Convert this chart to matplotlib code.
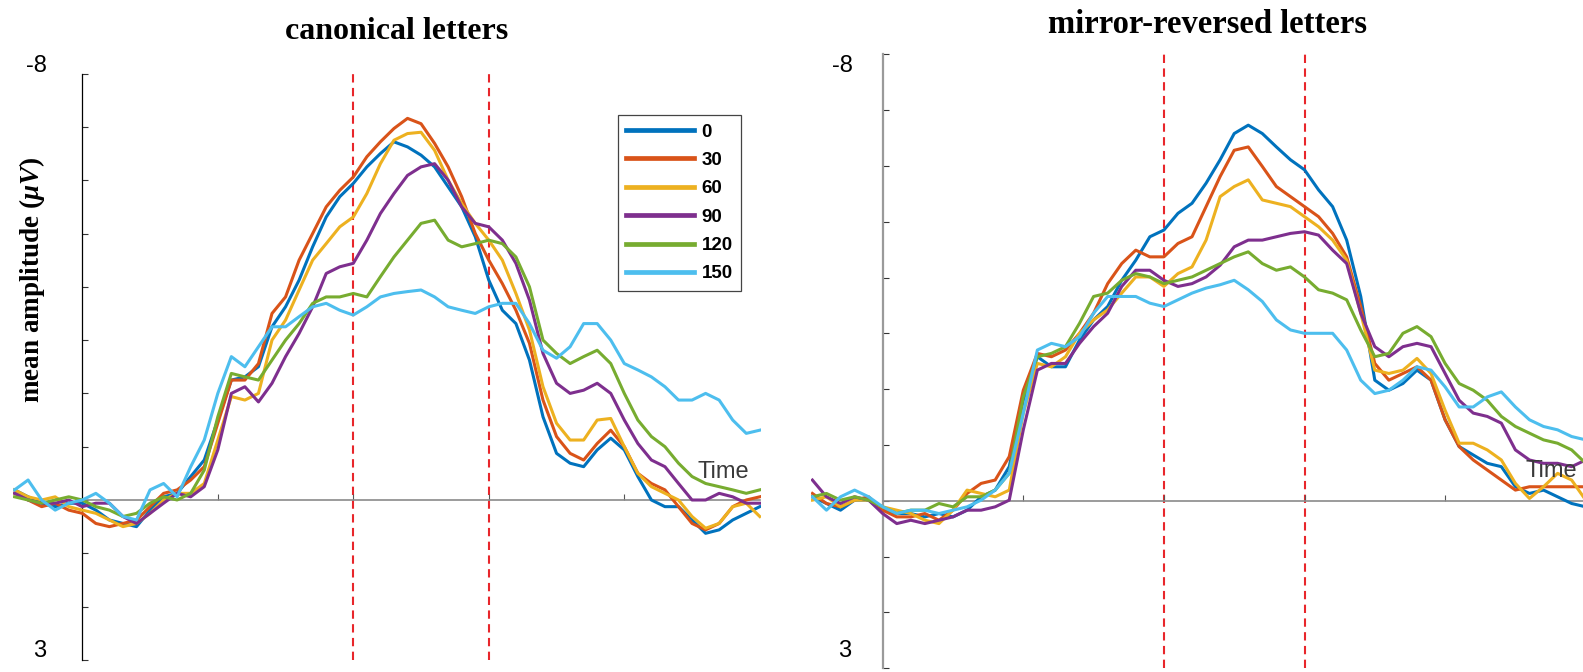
import matplotlib
matplotlib.use("Agg")
import matplotlib.pyplot as plt

# ---------------- data ----------------
TIMES = list(range(-100, 1001, 20))  # ms
CONDITIONS = ["0", "30", "60", "90", "120", "150"]
COLORS = ["#0072BD", "#D95319", "#EDB120", "#7E2F8E", "#77AC30", "#4DBEEE"]
MARKERS_MS = [400, 600]  # red dashed window

# canonical letters (µV, negative up)
CAN_0 = [-0.19, -0.06, 0.06, 0.125, 0.06, 0.06, 0.19, 0.375, 0.44, 0.5, 0.19, -0.06, -0.125, -0.44, -0.75,
         -1.5, -2.25, -2.31, -2.5, -3.25, -3.625, -4.125, -4.75, -5.31, -5.69, -5.94, -6.25, -6.5, -6.72,
         -6.625, -6.47, -6.25, -5.875, -5.5, -4.94, -4.125, -3.56, -3.31, -2.625, -1.56, -0.875, -0.69,
         -0.625, -0.94, -1.16, -0.94, -0.44, 0.0, 0.125, 0.125, 0.375, 0.625, 0.56, 0.375, 0.25, 0.125]
CAN_30 = [-0.125, 0.0, 0.125, 0.06, 0.19, 0.25, 0.44, 0.5, 0.44, 0.375, 0.125, -0.125, -0.19, -0.375, -0.625,
          -1.44, -2.25, -2.25, -2.56, -3.5, -3.81, -4.5, -5.0, -5.5, -5.81, -6.06, -6.44, -6.72, -6.97,
          -7.16, -7.06, -6.69, -6.25, -5.69, -5.0, -4.5, -4.06, -3.56, -2.94, -1.875, -1.19, -0.875,
          -0.75, -1.06, -1.31, -1.0, -0.5, -0.31, -0.19, 0.125, 0.44, 0.56, 0.44, 0.125, 0.0, -0.06]
CAN_60 = [-0.19, -0.06, 0.0, -0.06, 0.125, 0.19, 0.25, 0.375, 0.5, 0.44, 0.25, 0.0, -0.125, -0.125, -0.31,
          -1.125, -1.94, -1.875, -2.0, -3.0, -3.375, -3.94, -4.5, -4.81, -5.125, -5.31, -5.75, -6.31, -6.75,
          -6.875, -6.9, -6.56, -6.0, -5.56, -5.19, -4.875, -4.5, -3.875, -3.19, -2.125, -1.44, -1.125,
          -1.125, -1.5, -1.53, -1.0, -0.5, -0.25, -0.125, 0.0, 0.31, 0.53, 0.44, 0.125, 0.06, 0.31]
CAN_90 = [-0.125, 0.0, 0.06, 0.06, 0.0, 0.125, 0.06, 0.06, 0.31, 0.44, 0.25, 0.06, -0.125, -0.06, -0.25,
          -0.94, -2.0, -2.125, -1.84, -2.19, -2.69, -3.125, -3.625, -4.25, -4.375, -4.44, -4.875, -5.375, -5.75,
          -6.09, -6.25, -6.31, -6.0, -5.5, -5.19, -5.125, -4.875, -4.44, -3.75, -2.75, -2.19, -2.0,
          -2.06, -2.19, -2.0, -1.5, -1.06, -0.75, -0.625, -0.31, 0.0, 0.0, -0.125, -0.06, 0.06, 0.06]
CAN_120 = [-0.06, 0.0, 0.06, 0.0, -0.06, 0.0, 0.125, 0.19, 0.31, 0.25, 0.06, -0.06, 0.0, -0.125, -0.56,
           -1.56, -2.375, -2.31, -2.25, -2.625, -3.0, -3.31, -3.69, -3.81, -3.81, -3.875, -3.81, -4.19, -4.56,
           -4.875, -5.19, -5.25, -4.875, -4.75, -4.81, -4.875, -4.81, -4.56, -4.0, -3.0, -2.75, -2.56,
           -2.69, -2.81, -2.56, -2.0, -1.5, -1.19, -1.0, -0.69, -0.44, -0.31, -0.25, -0.19, -0.125, -0.19]
CAN_150 = [-0.19, -0.375, 0.0, 0.19, 0.06, 0.0, -0.125, 0.06, 0.31, 0.375, -0.19, -0.31, -0.06, -0.625, -1.125,
           -2.0, -2.69, -2.5, -2.875, -3.25, -3.25, -3.44, -3.625, -3.69, -3.56, -3.47, -3.625, -3.81, -3.875,
           -3.91, -3.94, -3.81, -3.625, -3.56, -3.5, -3.625, -3.69, -3.69, -3.31, -2.81, -2.66, -2.875,
           -3.31, -3.31, -3.0, -2.56, -2.44, -2.31, -2.125, -1.875, -1.875, -2.0, -1.875, -1.5, -1.25, -1.31]

# mirror-reversed letters
MIR_0 = [-0.07, 0.05, 0.17, -0.01, -0.01, 0.17, 0.23, 0.23, 0.29, 0.23, 0.29, 0.17, -0.07, -0.19, -0.61,
         -1.80, -2.58, -2.40, -2.40, -2.88, -3.24, -3.48, -3.95, -4.31, -4.73, -4.85, -5.15, -5.33, -5.69,
         -6.11, -6.58, -6.73, -6.58, -6.34, -6.11, -5.93, -5.57, -5.27, -4.67, -3.66, -2.16, -1.98,
         -2.10, -2.34, -2.16, -1.45, -0.97, -0.82, -0.67, -0.61, -0.25, -0.13, -0.19, -0.07, 0.05, 0.11]
MIR_30 = [-0.13, 0.05, 0.11, -0.01, -0.07, 0.17, 0.29, 0.29, 0.23, 0.35, 0.17, -0.13, -0.31, -0.37, -0.79,
          -1.98, -2.64, -2.58, -2.70, -3.00, -3.36, -3.89, -4.25, -4.49, -4.37, -4.37, -4.61, -4.73, -5.27,
          -5.81, -6.28, -6.34, -5.99, -5.63, -5.45, -5.27, -5.09, -4.79, -4.37, -3.48, -2.46, -2.16,
          -2.28, -2.40, -2.16, -1.45, -0.97, -0.73, -0.55, -0.37, -0.19, -0.25, -0.25, -0.25, -0.25, -0.25]
MIR_60 = [-0.01, -0.07, 0.11, -0.01, -0.01, 0.11, 0.17, 0.23, 0.35, 0.41, 0.17, -0.19, -0.13, -0.07, -0.19,
          -1.57, -2.46, -2.40, -2.58, -3.00, -3.24, -3.42, -3.72, -4.01, -4.01, -3.84, -4.07, -4.19, -4.67,
          -5.45, -5.63, -5.75, -5.39, -5.33, -5.27, -5.09, -4.91, -4.67, -4.31, -3.36, -2.34, -2.28,
          -2.34, -2.55, -2.28, -1.62, -1.03, -1.03, -0.91, -0.73, -0.31, -0.04, -0.25, -0.49, -0.37, -0.01]
MIR_90 = [-0.37, -0.07, 0.05, -0.07, -0.01, 0.23, 0.41, 0.35, 0.41, 0.35, 0.29, 0.17, 0.17, 0.11, -0.01,
          -1.27, -2.34, -2.46, -2.46, -2.82, -3.12, -3.36, -3.84, -4.13, -4.13, -3.95, -3.84, -3.89, -4.01,
          -4.22, -4.55, -4.67, -4.67, -4.73, -4.79, -4.82, -4.76, -4.49, -4.25, -3.36, -2.76, -2.58,
          -2.76, -2.82, -2.76, -2.28, -1.80, -1.57, -1.51, -1.39, -0.91, -0.73, -0.67, -0.67, -0.61, -0.73]
MIR_120 = [-0.07, -0.13, -0.01, -0.07, -0.01, 0.11, 0.23, 0.17, 0.17, 0.05, 0.11, -0.07, -0.07, -0.19, -0.49,
           -1.86, -2.58, -2.64, -2.76, -3.18, -3.66, -3.72, -3.95, -4.07, -4.01, -3.89, -3.95, -4.01, -4.13,
           -4.25, -4.37, -4.46, -4.25, -4.13, -4.19, -4.01, -3.78, -3.72, -3.60, -3.06, -2.58, -2.64,
           -3.00, -3.12, -2.94, -2.46, -2.10, -1.98, -1.80, -1.51, -1.33, -1.21, -1.09, -1.03, -0.91, -0.67]
MIR_150 = [-0.07, 0.17, -0.07, -0.19, -0.07, 0.11, 0.23, 0.17, 0.17, 0.23, 0.17, 0.11, -0.01, -0.19, -0.49,
           -1.57, -2.70, -2.82, -2.76, -2.94, -3.36, -3.66, -3.66, -3.66, -3.54, -3.48, -3.60, -3.72, -3.81,
           -3.87, -3.95, -3.78, -3.57, -3.24, -3.06, -3.00, -3.00, -3.00, -2.70, -2.16, -1.92, -1.98,
           -2.16, -2.40, -2.34, -2.04, -1.68, -1.68, -1.86, -1.95, -1.68, -1.45, -1.33, -1.27, -1.15, -1.09]

CANONICAL = [CAN_0, CAN_30, CAN_60, CAN_90, CAN_120, CAN_150]
MIRROR = [MIR_0, MIR_30, MIR_60, MIR_90, MIR_120, MIR_150]
Y_TOP, Y_BOTTOM = -8, 3
X_TICKS = [200, 400, 600, 800]

# ---------------- figure ----------------
W, H = 1583, 672
plt.rcParams['mathtext.fontset'] = 'custom'
plt.rcParams['mathtext.rm'] = 'Liberation Serif:bold'
plt.rcParams['mathtext.it'] = 'Liberation Serif:italic:bold'
plt.rcParams['mathtext.bf'] = 'Liberation Serif:bold'

fig = plt.figure(figsize=(W / 100, H / 100), dpi=100)


def px_rect(x0, x1, y0, y1):
    return [x0 / W, 1 - y1 / H, (x1 - x0) / W, (y1 - y0) / H]


def setup_panel(ax, spine_color, spine_lw):
    ax.set_xlim(-102, 1002)
    ax.set_ylim(Y_BOTTOM, Y_TOP)
    ax.patch.set_alpha(0)
    for s in ("top", "right"):
        ax.spines[s].set_visible(False)
    ax.spines["left"].set_position(("data", 0))
    ax.spines["left"].set_color(spine_color)
    ax.spines["left"].set_linewidth(spine_lw)
    ax.spines["bottom"].set_position(("data", 0))
    ax.spines["bottom"].set_bounds(0, 1000)
    ax.spines["bottom"].set_color("#8a8a8a")
    ax.spines["bottom"].set_linewidth(1.2)
    ax.set_yticks(range(Y_TOP, Y_BOTTOM + 1))
    ax.set_xticks(X_TICKS)
    ax.tick_params(axis="y", direction="in", length=4.5, width=0.8, color="#333333",
                   labelleft=False)
    ax.tick_params(axis="x", direction="in", length=4.5, width=0.8, color="#555555",
                   labelbottom=False)
    for m in MARKERS_MS:
        ax.axvline(m, color="#E8262B", lw=1.5, dashes=(4, 2.6), zorder=1)


# left panel
ax1 = fig.add_axes(px_rect(82.3 + 0.6775 * -102, 82.3 + 0.6775 * 1002, 73.6, 659.9))
setup_panel(ax1, "black", 0.9)
for vals, col, lab in zip(CANONICAL, COLORS, CONDITIONS):
    ax1.plot(TIMES, vals, color=col, lw=2.2, label=lab, zorder=3, solid_joinstyle="round")

leg = ax1.legend(loc="upper left", bbox_to_anchor=(618 / W, 1 - 115 / H),
                 bbox_transform=fig.transFigure, borderaxespad=0,
                 prop={"family": "Liberation Sans", "weight": "bold", "size": 13.5},
                 handlelength=3.6, handletextpad=0.4, labelspacing=0.6, borderpad=0.45,
                 fancybox=False, framealpha=1, edgecolor="#444444")
leg.get_frame().set_linewidth(0.9)
for ln in leg.get_lines():
    ln.set_linewidth(3.4)

# right panel
ax2 = fig.add_axes(px_rect(882.7 + 0.703 * -102, 882.7 + 0.703 * 1002, 54.3, 668.1))
setup_panel(ax2, "#9a9a9a", 1.6)
for vals, col, lab in zip(MIRROR, COLORS, CONDITIONS):
    ax2.plot(TIMES, vals, color=col, lw=2.2, label=lab, zorder=3, solid_joinstyle="round")

# texts
serif = "Liberation Serif"
sans = "Liberation Sans"
fig.text(397 / W, 1 - 39 / H, "canonical letters", ha="center", va="baseline",
         family=serif, weight="bold", fontsize=23)
fig.text(1208 / W, 1 - 33 / H, "mirror-reversed letters", ha="center", va="baseline",
         family=serif, weight="bold", fontsize=23.5)
fig.text(32 / W, 1 - 280 / H, r"mean amplitude ($\mu V$)", rotation=90, ha="center",
         va="center", family=serif, weight="bold", fontsize=19.5)

for (x, y, s) in [(36, 66, "-8"), (40, 651, "3"), (842, 66, "-8"), (845, 651, "3")]:
    fig.text(x / W, 1 - y / H, s, ha="center", va="center", family=sans, fontsize=17)

fig.text(697 / W, 1 - 478 / H, "Time", ha="left", va="baseline", family=sans,
         fontsize=17, color="#3a3a3a", zorder=0)
fig.text(1525 / W, 1 - 477 / H, "Time", ha="left", va="baseline", family=sans,
         fontsize=17, color="#3a3a3a", zorder=0)

fig.savefig("out.png", dpi=100)
